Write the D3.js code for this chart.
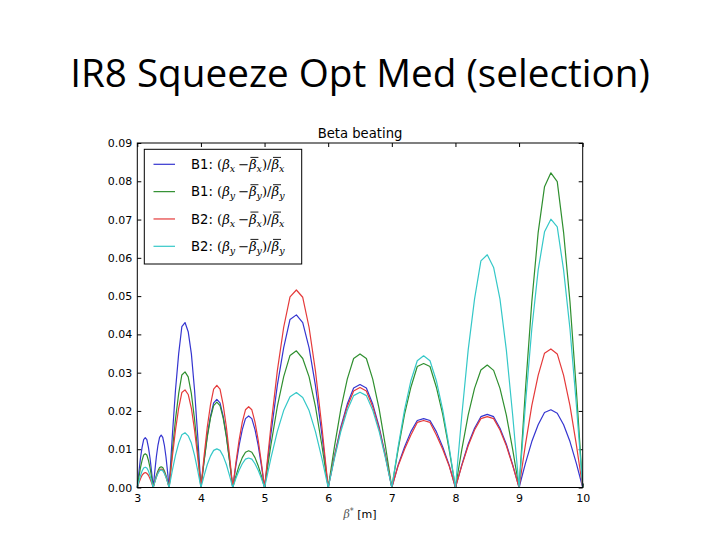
<!DOCTYPE html>
<head>
    <title>IR8 Squeeze Opt Med (selection)</title>
    <script src='https://cdn.jsdelivr.net/npm/d3@7/dist/d3.min.js'></script>
</head>
<style>
body {
  margin: 0;
  background: #fff;
  font-family: 'DejaVu Sans', sans-serif;
}
text {
    pointer-events: none;
}
</style>
<body>
    <svg></svg>
</body>

<script>

    // Data: beta* knob value and beta beating for each beam / plane
    var betaStar = [
        3.000, 3.025, 3.050, 3.075, 3.100, 3.125, 3.150, 3.175, 3.200, 3.225,
        3.250, 3.275, 3.300, 3.325, 3.350, 3.375, 3.400, 3.425, 3.450, 3.475,
        3.50, 3.55, 3.60, 3.65, 3.70, 3.75, 3.80, 3.85, 3.90, 3.95,
        4.00, 4.05, 4.10, 4.15, 4.20, 4.25, 4.30, 4.35, 4.40, 4.45,
        4.50, 4.55, 4.60, 4.65, 4.70, 4.75, 4.80, 4.85, 4.90, 4.95,
        5.0, 5.1, 5.2, 5.3, 5.4, 5.5, 5.6, 5.7, 5.8, 5.9,
        6.0, 6.1, 6.2, 6.3, 6.4, 6.5, 6.6, 6.7, 6.8, 6.9,
        7.0, 7.1, 7.2, 7.3, 7.4, 7.5, 7.6, 7.7, 7.8, 7.9,
        8.0, 8.1, 8.2, 8.3, 8.4, 8.5, 8.6, 8.7, 8.8, 8.9,
        9.0, 9.1, 9.2, 9.3, 9.4, 9.5, 9.6, 9.7, 9.8, 9.9,
        10.0
    ];

    var b1x = [
        0, 0.0040, 0.0077, 0.0105, 0.0125, 0.0130, 0.0125, 0.0105, 0.0077, 0.0040,
        0, 0.0042, 0.0081, 0.0111, 0.0131, 0.0137, 0.0131, 0.0111, 0.0081, 0.0042,
        0, 0.0134, 0.0254, 0.0349, 0.0420, 0.0431, 0.0407, 0.0349, 0.0254, 0.0134,
        0, 0.0071, 0.0136, 0.0186, 0.0221, 0.0230, 0.0221, 0.0186, 0.0136, 0.0071,
        0, 0.0058, 0.0110, 0.0151, 0.0180, 0.0187, 0.0180, 0.0151, 0.0110, 0.0058,
        0, 0.0140, 0.0266, 0.0365, 0.0439, 0.0451, 0.0431, 0.0365, 0.0266, 0.0140,
        0, 0.0083, 0.0159, 0.0218, 0.0260, 0.0269, 0.0260, 0.0218, 0.0159, 0.0083,
        0, 0.0059, 0.0106, 0.0146, 0.0175, 0.0180, 0.0175, 0.0146, 0.0106, 0.0059,
        0, 0.0059, 0.0113, 0.0155, 0.0185, 0.0191, 0.0185, 0.0155, 0.0113, 0.0059,
        0, 0.0063, 0.0120, 0.0164, 0.0196, 0.0203, 0.0194, 0.0164, 0.0120, 0.0063,
        0
    ];

    var b1y = [
        0, 0.0027, 0.0052, 0.0071, 0.0085, 0.0088, 0.0085, 0.0071, 0.0052, 0.0027,
        0, 0.0017, 0.0032, 0.0044, 0.0052, 0.0054, 0.0052, 0.0044, 0.0032, 0.0017,
        0, 0.0094, 0.0178, 0.0245, 0.0294, 0.0302, 0.0289, 0.0245, 0.0178, 0.0094,
        0, 0.0069, 0.0132, 0.0181, 0.0214, 0.0223, 0.0214, 0.0181, 0.0132, 0.0069,
        0, 0.0030, 0.0057, 0.0078, 0.0092, 0.0096, 0.0092, 0.0078, 0.0057, 0.0030,
        0, 0.0111, 0.0211, 0.0289, 0.0345, 0.0357, 0.0337, 0.0289, 0.0211, 0.0111,
        0, 0.0108, 0.0206, 0.0283, 0.0337, 0.0349, 0.0337, 0.0283, 0.0206, 0.0108,
        0, 0.0100, 0.0191, 0.0262, 0.0316, 0.0324, 0.0316, 0.0262, 0.0191, 0.0100,
        0, 0.0099, 0.0189, 0.0259, 0.0307, 0.0320, 0.0306, 0.0259, 0.0189, 0.0099,
        0, 0.0255, 0.0485, 0.0666, 0.0786, 0.0822, 0.0799, 0.0666, 0.0485, 0.0255,
        0
    ];

    var b2x = [
        0, 0.0012, 0.0023, 0.0032, 0.0037, 0.0039, 0.0037, 0.0032, 0.0023, 0.0012,
        0, 0.0015, 0.0028, 0.0039, 0.0046, 0.0048, 0.0046, 0.0039, 0.0028, 0.0015,
        0, 0.0079, 0.0150, 0.0207, 0.0248, 0.0255, 0.0243, 0.0207, 0.0150, 0.0079,
        0, 0.0083, 0.0158, 0.0216, 0.0257, 0.0267, 0.0257, 0.0216, 0.0158, 0.0083,
        0, 0.0065, 0.0124, 0.0171, 0.0203, 0.0211, 0.0203, 0.0171, 0.0124, 0.0065,
        0, 0.0160, 0.0304, 0.0418, 0.0498, 0.0516, 0.0497, 0.0418, 0.0304, 0.0160,
        0, 0.0081, 0.0154, 0.0211, 0.0252, 0.0261, 0.0252, 0.0211, 0.0154, 0.0081,
        0, 0.0057, 0.0100, 0.0137, 0.0170, 0.0175, 0.0170, 0.0137, 0.0100, 0.0057,
        0, 0.0057, 0.0109, 0.0150, 0.0180, 0.0185, 0.0180, 0.0150, 0.0109, 0.0057,
        0, 0.0112, 0.0214, 0.0293, 0.0351, 0.0362, 0.0349, 0.0293, 0.0214, 0.0112,
        0
    ];

    var b2y = [
        0, 0.0016, 0.0031, 0.0043, 0.0051, 0.0053, 0.0051, 0.0043, 0.0031, 0.0016,
        0, 0.0014, 0.0027, 0.0037, 0.0044, 0.0046, 0.0044, 0.0037, 0.0027, 0.0014,
        0, 0.0044, 0.0084, 0.0116, 0.0138, 0.0143, 0.0135, 0.0116, 0.0084, 0.0044,
        0, 0.0031, 0.0060, 0.0082, 0.0097, 0.0101, 0.0097, 0.0082, 0.0060, 0.0031,
        0, 0.0024, 0.0045, 0.0062, 0.0074, 0.0077, 0.0074, 0.0062, 0.0045, 0.0024,
        0, 0.0077, 0.0146, 0.0201, 0.0237, 0.0248, 0.0235, 0.0201, 0.0146, 0.0077,
        0, 0.0077, 0.0147, 0.0202, 0.0240, 0.0249, 0.0240, 0.0202, 0.0147, 0.0077,
        0, 0.0107, 0.0203, 0.0279, 0.0331, 0.0344, 0.0331, 0.0279, 0.0203, 0.0107,
        0, 0.0188, 0.0359, 0.0492, 0.0592, 0.0608, 0.0575, 0.0492, 0.0359, 0.0188,
        0, 0.0217, 0.0414, 0.0568, 0.0668, 0.0701, 0.0681, 0.0568, 0.0414, 0.0217,
        0
    ];

    var xTicks = [3, 4, 5, 6, 7, 8, 9, 10];
    var yTicks = [0, 0.01, 0.02, 0.03, 0.04, 0.05, 0.06, 0.07, 0.08, 0.09];

    var seriesNames = ['B1', 'B1', 'B2', 'B2'];
    var seriesPlanes = ['x', 'y', 'x', 'y'];
    var seriesValues = [b1x, b1y, b2x, b2y];
    var seriesColors = ['#3535d0', '#2f8f2f', '#e53a3a', '#35c8c8'];

    // Sizes
    var vWidth = 720;
    var vHeight = 540;
    var plotLeft = 137.3, plotRight = 582.7, plotTop = 143, plotBottom = 487.5;

    var svg = d3.select('svg')
        .attr('width', vWidth)
        .attr('height', vHeight);

    svg.append('rect').attr('width', vWidth).attr('height', vHeight).attr('fill', '#fff');

    // Slide title, shrunk to the width it has on the slide
    var title = svg.append('text')
        .attr('x', vWidth / 2)
        .attr('y', 87)
        .attr('text-anchor', 'middle')
        .style('font-family', "'Open Sans', 'Noto Sans', sans-serif")
        .style('font-size', '40px')
        .style('fill', '#000')
        .text('IR8 Squeeze Opt Med (selection)');
    var tw = title.node().getComputedTextLength();
    title.style('font-size', (40 * 580 / tw) + 'px');

    var x = d3.scaleLinear().domain([3, 10]).range([plotLeft, plotRight]);
    var y = d3.scaleLinear().domain([0, 0.09]).range([plotBottom, plotTop]);

    // Axes with ticks pointing inwards, on all four sides
    var axisFont = function(sel) {
        sel.selectAll('text')
            .style('font-family', "'DejaVu Sans', sans-serif")
            .style('font-size', '11px')
            .style('fill', '#000');
        sel.selectAll('line').style('stroke', '#000');
        sel.select('.domain').remove();
    };

    svg.append('g')
        .attr('transform', 'translate(0,' + plotBottom + ')')
        .call(d3.axisBottom(x).tickValues(xTicks).tickSize(-4).tickPadding(7).tickFormat(d3.format('d')))
        .call(axisFont);

    svg.append('g')
        .attr('transform', 'translate(0,' + plotTop + ')')
        .call(d3.axisTop(x).tickValues(xTicks).tickSize(-4).tickFormat(''))
        .call(axisFont);

    svg.append('g')
        .attr('transform', 'translate(' + plotLeft + ',0)')
        .call(d3.axisLeft(y).tickValues(yTicks).tickSize(-4).tickPadding(5).tickFormat(d3.format('.2f')))
        .call(axisFont);

    svg.append('g')
        .attr('transform', 'translate(' + plotRight + ',0)')
        .call(d3.axisRight(y).tickValues(yTicks).tickSize(-4).tickFormat(''))
        .call(axisFont);

    // Lines
    var line = d3.line()
        .x(function(d, i) { return x(betaStar[i]); })
        .y(function(d) { return y(d); });

    svg.append('g')
        .selectAll('path')
        .data(seriesValues)
        .enter().append('path')
        .attr('d', line)
        .attr('fill', 'none')
        .attr('stroke', function(d, i) { return seriesColors[i]; })
        .attr('stroke-width', 1.2)
        .attr('stroke-linejoin', 'round');

    // Frame
    svg.append('rect')
        .attr('x', plotLeft)
        .attr('y', plotTop)
        .attr('width', plotRight - plotLeft)
        .attr('height', plotBottom - plotTop)
        .attr('fill', 'none')
        .attr('stroke', '#000')
        .attr('stroke-width', 1);

    // Axes titles
    svg.append('text')
        .attr('x', (plotLeft + plotRight) / 2)
        .attr('y', 137.5)
        .attr('text-anchor', 'middle')
        .style('font-size', '13.2px')
        .text('Beta beating');

    var xl = svg.append('text')
        .attr('x', (plotLeft + plotRight) / 2)
        .attr('y', 518)
        .attr('text-anchor', 'middle')
        .style('font-size', '11px');
    xl.append('tspan').style('font-family', "'DejaVu Serif', serif").style('font-style', 'italic').style('fill', '#555').text('\u03b2');
    xl.append('tspan').attr('dy', -4).style('font-size', '8px').style('fill', '#555').text('*');
    xl.append('tspan').attr('dy', 4).text('  [m]');

    // Legend
    var legend = svg.append('g');
    legend.append('rect')
        .attr('x', 144.3).attr('y', 149.3)
        .attr('width', 157.4).attr('height', 114.7)
        .attr('fill', '#fff')
        .attr('stroke', '#000')
        .attr('stroke-width', 1);

    var rowY = d3.scaleLinear().domain([0, 3]).range([164.3, 246.3]);

    var rows = legend.selectAll('g.row')
        .data(seriesValues)
        .enter().append('g').attr('class', 'row')
        .attr('transform', function(d, i) { return 'translate(0,' + rowY(i) + ')'; });

    rows.append('line')
        .attr('x1', 153.5).attr('x2', 175)
        .attr('stroke', function(d, i) { return seriesColors[i]; })
        .attr('stroke-width', 1.2);

    // (beta_p - bar beta_p) / bar beta_p, bars drawn as small lines over the betas
    rows.each(function(d, i) {
        var p = seriesPlanes[i];
        var row = d3.select(this);
        var t = row.append('text')
            .attr('x', 191)
            .attr('y', 4.6)
            .style('font-size', '13.2px');
        var m = "'DejaVu Serif', serif";
        t.append('tspan').style('font-family', "'DejaVu Sans', sans-serif").text(seriesNames[i] + ': ');
        t.append('tspan').style('font-family', m).text('(');
        t.append('tspan').style('font-family', m).style('font-style', 'italic').text('\u03b2');
        t.append('tspan').attr('dy', 3).style('font-family', m).style('font-style', 'italic').style('font-size', '9.5px').text(p);
        t.append('tspan').attr('dy', -3).style('font-family', m).text('\u2009\u2212');
        var bar1 = t.append('tspan').style('font-family', m).style('font-style', 'italic').text('\u03b2');
        t.append('tspan').attr('dy', 3).style('font-family', m).style('font-style', 'italic').style('font-size', '9.5px').text(p);
        t.append('tspan').attr('dy', -3).style('font-family', m).text(')/');
        var bar2 = t.append('tspan').style('font-family', m).style('font-style', 'italic').text('\u03b2');
        t.append('tspan').attr('dy', 3).style('font-family', m).style('font-style', 'italic').style('font-size', '9.5px').text(p);

        [bar1, bar2].forEach(function(b) {
            var bb = b.node().getBBox();
            row.append('line')
                .attr('x1', bb.x + 2.5).attr('x2', bb.x + bb.width + 1.5)
                .attr('y1', bb.y + 0.5).attr('y2', bb.y + 0.5)
                .attr('stroke', '#000')
                .attr('stroke-width', 0.9);
        });
    });

</script>
